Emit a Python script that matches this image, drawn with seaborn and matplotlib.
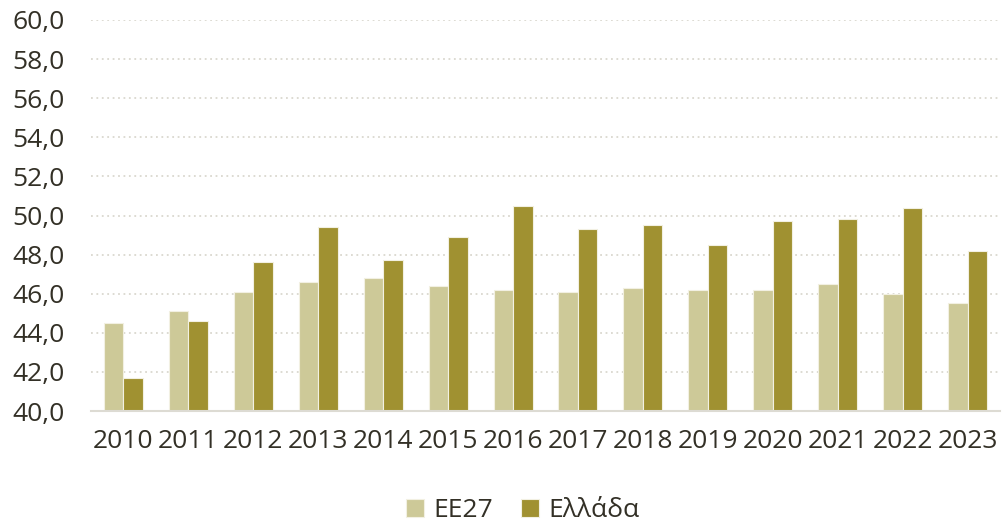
import pandas as pd
import numpy as np
import seaborn as sns
import matplotlib.pyplot as plt
from matplotlib.ticker import FuncFormatter, MultipleLocator

years = ['2010', '2011', '2012', '2013', '2014', '2015', '2016',
         '2017', '2018', '2019', '2020', '2021', '2022', '2023']
ee27 = [44.5, 45.1, 46.1, 46.6, 46.8, 46.4, 46.2, 46.1, 46.3, 46.2, 46.2, 46.5, 46.0, 45.5]
ellada = [41.7, 44.6, 47.6, 49.4, 47.7, 48.9, 50.5, 49.3, 49.5, 48.5, 49.7, 49.8, 50.4, 48.2]
series = ['ΕΕ27', 'Ελλάδα']

df = pd.DataFrame({
    'Έτος': years * 2,
    'Τιμή': ee27 + ellada,
    'Σειρά': [series[0]] * len(years) + [series[1]] * len(years),
})

sns.set_style('white')
plt.rcParams['font.family'] = ['Open Sans', 'DejaVu Sans']

fig = plt.figure(figsize=(10.02, 5.22), dpi=100)
ax = fig.add_axes([91 / 1002, 111 / 522, 909 / 1002, 391 / 522])

sns.barplot(data=df, x='Έτος', y='Τιμή', hue='Σειρά', ax=ax,
            palette=['#CDC998', '#A09131'], width=0.6, gap=0,
            edgecolor='#F2F0E2', linewidth=0.8, saturation=1)

ax.set_ylim(40, 60)
ax.yaxis.set_major_locator(MultipleLocator(2))
ax.yaxis.set_major_formatter(FuncFormatter(lambda v, p: f'{v:.1f}'.replace('.', ',')))
ax.grid(axis='y', color='#DAD8CF', linestyle=(0, (1, 2)), linewidth=1.3)
ax.set_axisbelow(True)
for s in ['top', 'right', 'left']:
    ax.spines[s].set_visible(False)
ax.spines['bottom'].set_color('#DDDBD3')
ax.spines['bottom'].set_linewidth(1.5)
ax.set_xlim(-0.5, len(years) - 0.5)
ax.set_xlabel('')
ax.set_ylabel('')
ax.tick_params(axis='both', length=0, labelsize=19, colors='#333026')
ax.tick_params(axis='x', pad=13)
ax.tick_params(axis='y', pad=19)

handles, labels = ax.get_legend_handles_labels()
ax.legend(handles, labels, loc='center', bbox_to_anchor=(0.475, -0.255), ncol=2,
          frameon=False, fontsize=19, handlelength=0.68, handleheight=0.68,
          handletextpad=0.35, columnspacing=1.05, labelcolor='#333026')

fig.savefig('out.png', dpi=100)
